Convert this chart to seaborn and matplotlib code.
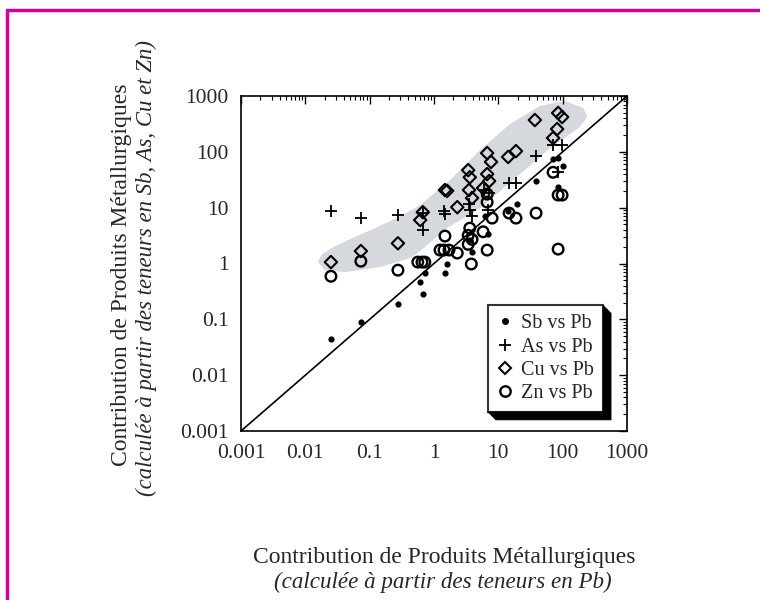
import numpy as np
import pandas as pd
import matplotlib
matplotlib.use("Agg")
import matplotlib.pyplot as plt
import seaborn as sns
from matplotlib.lines import Line2D
from matplotlib.patches import Polygon
from matplotlib.ticker import FixedLocator, LogLocator, NullFormatter

# contributions calculated from Pb (x) vs from the other element (y)
sb_x = [0.025, 0.073, 0.275, 0.61, 0.72, 0.67, 1.48, 1.6, 3.9, 6.9, 14.2, 19.6, 38.6, 71, 85, 101, 85, 3.6, 6.2]
sb_y = [0.045, 0.089, 0.19, 0.46, 0.67, 0.28, 0.67, 1.0, 1.6, 3.4, 8.7, 11.6, 30, 74, 78, 56, 23, 2.6, 7.1]

as_x = [0.025, 0.073, 0.275, 0.67, 0.67, 1.43, 1.48, 3.5, 3.6, 3.9, 6.0, 7.2, 6.9, 14.7, 18.8, 38.6, 71, 98, 85]
as_y = [8.7, 6.5, 7.4, 8.0, 4.0, 8.7, 7.7, 11.6, 9.1, 7.1, 20.7, 18.3, 9.1, 27.6, 27.6, 84, 133, 133, 43]

cu_x = [0.025, 0.073, 0.275, 0.67, 0.61, 1.48, 1.6, 2.3, 3.4, 3.6, 3.5, 3.9, 6.7, 7.7, 6.7, 7.2, 5.8,
        14.2, 18.8, 37, 85, 98, 82, 71]
cu_y = [1.06, 1.67, 2.3, 8.3, 6.0, 20.7, 20, 10.2, 47, 35, 20.7, 14.9, 95, 66, 40, 30, 22.5,
        81, 103, 371, 496, 420, 256, 177]

zn_x = [0.025, 0.073, 0.275, 0.56, 0.65, 0.72, 1.24, 1.48, 1.43, 1.71, 2.3, 3.8, 3.6, 3.4, 3.9, 3.4,
        5.8, 6.7, 6.7, 8.0, 6.7, 14.7, 18.8, 38.6, 71, 85, 98, 85]
zn_y = [0.59, 1.1, 0.76, 1.06, 1.06, 1.06, 1.74, 3.1, 1.74, 1.74, 1.54, 0.98, 4.3, 3.2, 2.7, 2.2,
        3.7, 12.6, 17.5, 6.5, 1.74, 8.0, 6.5, 8.0, 43, 16.8, 16.8, 1.81]

# grey envelope around the Cu / As points
env_x = [0.0157, 0.0181, 0.029, 0.06, 0.121, 0.3, 0.61, 1.77, 5.2, 15.2, 44.5, 109, 210, 240,
         185, 59, 17, 5.2, 1.59, 0.47, 0.145, 0.041, 0.020]
env_y = [1.06, 1.47, 2.05, 3.0, 4.3, 7.0, 11.1, 31, 108, 315, 664, 813, 609, 420,
         278, 108, 31, 9.8, 4.3, 1.30, 0.86, 0.70, 0.76]

ticks = [0.001, 0.01, 0.1, 1, 10, 100, 1000]
tick_labels = ["0.001", "0.01", "0.1", "1", "10", "100", "1000"]
series_labels = ["Sb vs Pb", "As vs Pb", "Cu vs Pb", "Zn vs Pb"]

sns.set_style("white")
plt.rcParams['font.family'] = ['Liberation Serif', 'DejaVu Serif']

fig = plt.figure(figsize=(7.6, 6), dpi=100)
ax = fig.add_axes([241 / 760, 169 / 600, 386 / 760, 335 / 600])
ax.set_xscale('log')
ax.set_yscale('log')

ax.fill(env_x, env_y, color='#d5d8dd', lw=0, zorder=0)
ax.plot([1e-3, 1e3], [1e-3, 1e3], color='black', lw=1.2, zorder=1)

sns.scatterplot(x=sb_x, y=sb_y, ax=ax, marker='o', s=20, color='black', edgecolor='black', linewidth=0, zorder=3)
sns.scatterplot(x=as_x, y=as_y, ax=ax, marker='+', s=80, color='black', linewidth=1.3, zorder=3)
sns.scatterplot(x=cu_x, y=cu_y, ax=ax, marker='D', s=40, facecolor='none', edgecolor='black', linewidth=1.5, zorder=3)
sns.scatterplot(x=zn_x, y=zn_y, ax=ax, marker='o', s=58, facecolor='none', edgecolor='black', linewidth=1.7, zorder=3)

ax.set_xlim(1e-3, 1e3)
ax.set_ylim(1e-3, 1e3)
for axis in (ax.xaxis, ax.yaxis):
    axis.set_major_locator(FixedLocator(ticks))
    axis.set_minor_locator(LogLocator(base=10, subs=np.arange(2, 10)))
    axis.set_minor_formatter(NullFormatter())
ax.set_xticklabels(tick_labels)
ax.set_yticklabels(tick_labels)
ax.tick_params(which='both', direction='in', top=True, right=True, color='black')
ax.tick_params(which='major', length=6, width=1, labelsize=15.5, pad=9)
ax.tick_params(which='minor', length=3, width=0.8)
for sp in ax.spines.values():
    sp.set_color('black')
    sp.set_linewidth(1.2)

handles = [
    Line2D([], [], ls='none', marker='o', ms=4, color='black'),
    Line2D([], [], ls='none', marker='+', ms=9, mew=1.3, color='black'),
    Line2D([], [], ls='none', marker='D', ms=6, mfc='none', mec='black', mew=1.5),
    Line2D([], [], ls='none', marker='o', ms=7.5, mfc='none', mec='black', mew=1.7),
]
leg = ax.legend(handles, series_labels, loc='lower right', bbox_to_anchor=(0.938, 0.057),
                borderaxespad=0, frameon=True, fancybox=False, fontsize=14.5,
                handlelength=0.8, handletextpad=0.4, labelspacing=0.2, borderpad=0.45)
leg.get_frame().set_edgecolor('black')
leg.get_frame().set_linewidth(1.5)

# 3D shadow of the legend box
fig.canvas.draw()
bb = leg.get_frame().get_window_extent()
d = 8
pts = [(bb.x1, bb.y1), (bb.x1 + d, bb.y1 - d), (bb.x1 + d, bb.y0 - d),
       (bb.x0 + d, bb.y0 - d), (bb.x0, bb.y0), (bb.x1, bb.y0)]
pts = fig.transFigure.inverted().transform(pts)
fig.add_artist(Polygon(pts, closed=True, facecolor='black', edgecolor='black', lw=0.5))

fig.text(444 / 760, 1 - 557 / 600, "Contribution de Produits Métallurgiques",
         ha='center', va='center', fontsize=17)
fig.text(443 / 760, 1 - 582 / 600, "(calculée à partir des teneurs en Pb)",
         ha='center', va='center', fontsize=16.6, style='italic')
fig.text(121 / 760, 1 - 275 / 600, "Contribution de Produits Métallurgiques",
         ha='center', va='center', fontsize=17, rotation=90)
fig.text(146 / 760, 1 - 268 / 600, "(calculée à partir des teneurs en Sb, As, Cu et Zn)",
         ha='center', va='center', fontsize=16.4, rotation=90, style='italic')

# magenta frame (top and left only)
border = '#d1009c'
fig.add_artist(Line2D([7 / 760, 1], [1 - 9.5 / 600, 1 - 9.5 / 600], color=border, lw=2.5))
fig.add_artist(Line2D([7 / 760, 7 / 760], [0, 1 - 9.5 / 600], color=border, lw=2.5))

fig.savefig("out.png", dpi=100)
